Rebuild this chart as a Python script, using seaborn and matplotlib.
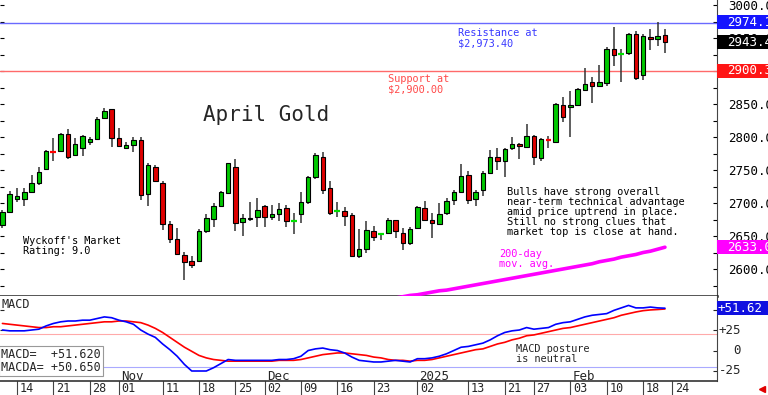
import matplotlib
matplotlib.use('Agg')
import matplotlib.pyplot as plt
import matplotlib.transforms as mtransforms
from matplotlib.patches import Rectangle
import seaborn as sns
import numpy as np
import pandas as pd

# trading calendar (COMEX), Oct 10 2024 onward
holidays = ['2024-11-28', '2024-12-25', '2025-01-01', '2025-01-20', '2025-02-17']
days = pd.bdate_range('2024-10-10', '2025-03-07', freq='C', holidays=holidays)

# April gold daily OHLC
opens = [2666, 2686, 2706, 2706, 2716, 2730, 2752, 2777.4, 2779, 2804,
         2773, 2784, 2792, 2797, 2829, 2842, 2799, 2783, 2788, 2796,
         2713, 2755, 2731, 2668, 2645, 2621, 2612, 2612, 2657, 2676,
         2696, 2715, 2754, 2671, 2676, 2679, 2696, 2679, 2683, 2692,
         2673, 2683, 2701, 2740, 2770, 2722, 2688, 2688, 2682, 2620,
         2630, 2658, 2652, 2655, 2674, 2655, 2640, 2662, 2692, 2674,
         2668, 2685, 2705, 2717, 2743, 2706, 2719, 2745, 2769, 2764,
         2783, 2790, 2785, 2802, 2768, 2796.4, 2793, 2849, 2845, 2849,
         2871, 2883, 2878, 2882, 2934, 2926, 2927, 2956, 2894, 2952,
         2948, 2955]
highs = [2689, 2718, 2723, 2723, 2742, 2754, 2780, 2798, 2806, 2812,
         2798, 2803, 2800, 2830, 2844, 2843, 2813, 2793, 2800, 2800,
         2760, 2758, 2733, 2673, 2662, 2626, 2620, 2660, 2684, 2700,
         2718, 2761, 2766, 2683, 2702, 2708, 2697, 2697, 2700, 2697,
         2685, 2717, 2741, 2776, 2778, 2734, 2702, 2694, 2685, 2660,
         2673, 2665, 2655, 2677, 2675, 2662, 2664, 2696, 2703, 2685,
         2700, 2707, 2720, 2759, 2748, 2720, 2749, 2780, 2783, 2783,
         2800, 2791, 2820, 2803, 2798, 2801, 2851, 2860, 2870, 2874,
         2904, 2891, 2909, 2937, 2967, 2933, 2958, 2961, 2956, 2963,
         2974, 2963]
lows = [2662, 2685, 2701, 2695, 2715, 2728, 2750, 2763, 2778, 2766,
        2771, 2771, 2788, 2796, 2827, 2785, 2785, 2782, 2778, 2705,
        2696, 2732, 2659, 2639, 2621, 2583, 2602, 2611, 2655, 2664,
        2694, 2714, 2658, 2650, 2672, 2663, 2663, 2675, 2673, 2663,
        2653, 2669, 2699, 2736, 2714, 2682, 2679, 2665, 2618, 2616,
        2624, 2643, 2644, 2654, 2647, 2629, 2637, 2660, 2673, 2647,
        2666, 2682, 2697, 2715, 2699, 2696, 2711, 2744, 2750, 2740,
        2781, 2766, 2784, 2758, 2763, 2783, 2792, 2823, 2800, 2847,
        2870, 2852, 2876, 2877, 2908, 2884, 2924, 2886, 2886, 2932,
        2938, 2928]
closes = [2687, 2713, 2711, 2717, 2730, 2747, 2779, 2777, 2804, 2769,
          2790, 2802, 2797, 2828, 2839, 2798, 2786, 2788, 2795, 2712,
          2758, 2733, 2668, 2645, 2622, 2611, 2606, 2658, 2678, 2696,
          2716, 2760, 2669, 2677, 2678, 2690, 2679, 2683, 2691, 2672,
          2673.4, 2701, 2740, 2772, 2720, 2685, 2688.4, 2681, 2619, 2630,
          2659, 2649, 2652.4, 2675, 2657, 2640, 2661, 2694, 2675, 2669,
          2684, 2703, 2716, 2741, 2705, 2716, 2746, 2769, 2764, 2782,
          2790, 2786, 2802, 2769, 2797, 2796, 2850, 2830, 2849, 2872,
          2881, 2878, 2884, 2934, 2924, 2926.4, 2956, 2890, 2953, 2948,
          2953, 2943.4]

ma200 = [np.nan] * 50 + [
    2551, 2552, 2553, 2555, 2556, 2558, 2560, 2561, 2563, 2565,
    2567, 2568, 2570, 2572, 2574, 2576, 2578, 2580, 2582, 2584,
    2586, 2588, 2590, 2592, 2594, 2596, 2598, 2600, 2602, 2604,
    2606, 2608, 2611, 2613, 2615, 2618, 2620, 2622, 2625, 2627,
    2630, 2633]

macd = [25, 24, 24, 24, 25, 26, 30, 33, 35, 36,
        36, 37, 37, 39, 41, 40, 37, 35, 32, 25,
        20, 16, 8, 1, -7, -17, -25, -25, -25, -21,
        -16, -11, -12, -12, -12, -12, -12, -12, -11, -11,
        -10, -7, 0, 2, 3, 1, 0, -3, -8, -12,
        -13, -14, -14, -13, -12, -13, -14, -10, -10, -9,
        -7, -4, 0, 4, 5, 7, 9, 13, 18, 22,
        24, 25, 28, 26, 27, 28, 32, 34, 35, 38,
        41, 43, 44, 45, 49, 52, 55, 52, 52, 53,
        52, 51.62]
macda = [33, 32, 31, 30, 29, 28, 28, 29, 29, 30,
         31, 32, 33, 34, 35, 35, 36, 36, 35, 34,
         31, 27, 22, 16, 10, 4, -1, -6, -9, -11,
         -12, -13, -13, -13, -13, -13, -13, -13, -12, -12,
         -12, -11, -9, -7, -5, -4, -3, -3, -4, -5,
         -6, -8, -9, -11, -12, -12, -13, -12, -12, -11,
         -9, -7, -5, -3, -1, 1, 2, 5, 8, 10,
         13, 15, 18, 19, 21, 23, 25, 27, 28, 30,
         32, 34, 36, 38, 40, 43, 45, 47, 48.6, 49.5,
         50, 50.65]

week_ticks = ['2024-10-14', '2024-10-21', '2024-10-28', '2024-11-01', '2024-11-11',
              '2024-11-18', '2024-11-25', '2024-12-02', '2024-12-09', '2024-12-16',
              '2024-12-23', '2025-01-02', '2025-01-13', '2025-01-21', '2025-01-27',
              '2025-02-03', '2025-02-10', '2025-02-18', '2025-02-24']
month_labels = ['Nov', 'Dec', '2025', 'Feb']
month_ticks = ['2024-11-01', '2024-12-02', '2025-01-02', '2025-02-03']

resistance = 2973.40
support = 2900.00
price_boxes = [(2974.1, '#1515ff'), (2943.4, 'black'), (2900.3, '#ff1515'), (2633.0, '#ff00ff')]

n = len(closes)
df = pd.DataFrame({'x': np.arange(n), 'open': opens, 'high': highs, 'low': lows,
                   'close': closes, 'ma200': ma200, 'macd': macd, 'macda': macda})

def pos(d):
    return days.get_loc(pd.Timestamp(d))

sns.set_style('white')
plt.rcParams['font.family'] = ['DejaVu Sans Mono', 'DejaVu Sans']
MONO = 'DejaVu Sans Mono'

fig = plt.figure(figsize=(7.68, 3.95), dpi=100)
W, H = 768, 395
ax1 = fig.add_axes([0, 1 - 296 / H, 717 / W, 296 / H])
ax2 = fig.add_axes([0, 1 - 381 / H, 717 / W, 85 / H])
xlim = (-0.335, 98.15)

# ---- price panel ----
ax1.axhline(resistance, color='#6a6aff', lw=1, zorder=1)
ax1.axhline(support, color='#ff6a6a', lw=1, zorder=1)

ax1.vlines(df['x'], df['low'], df['high'], color='#333333', lw=1.1, zorder=2)
body_lo = df[['open', 'close']].min(axis=1)
body_h = (df['close'] - df['open']).abs()
up = df['close'] >= df['open']
doji = body_h < 1
solid = ~doji
ax1.bar(df['x'][solid], body_h[solid], bottom=body_lo[solid], width=0.62,
        color=np.where(up[solid], '#00c800', '#e00000'), edgecolor='black', lw=0.8, zorder=3)
ax1.hlines(df['close'][doji], df['x'][doji] - 0.4, df['x'][doji] + 0.4,
           colors=np.where(up[doji], '#00e000', '#ff0000'), lw=1.6, zorder=4)

sns.lineplot(data=df, x='x', y='ma200', ax=ax1, color='#ff00ff', lw=2.6, zorder=3)

ax1.set_xlim(*xlim)
ax1.set_ylim(2559.1, 3007.6)
ax1.set_xlabel('')
ax1.set_ylabel('')
ax1.set_xticks([])
ax1.set_yticks(np.arange(2600, 3001, 50))
ax1.set_yticks(np.arange(2575, 3001, 25), minor=True)
ax1.yaxis.set_major_formatter(matplotlib.ticker.FormatStrFormatter('%.1f'))
ax1.tick_params(axis='y', which='both', left=True, right=True, labelleft=False, labelright=True,
                direction='in', length=3, width=0.8, pad=8, labelsize=9, colors='black')
for lbl in ax1.get_yticklabels():
    lbl.set_fontfamily(MONO)
for s in ['top', 'left']:
    ax1.spines[s].set_visible(False)
ax1.spines['bottom'].set_linewidth(1.8)
ax1.spines['bottom'].set_color('#222222')
ax1.spines['right'].set_linewidth(0.8)
ax1.spines['right'].set_color('#444444')

btrans = mtransforms.blended_transform_factory(ax1.transAxes, ax1.transData)
box_h = 14 / 0.66
for val, col in price_boxes:
    ax1.add_patch(Rectangle((1.0, val - box_h / 2), 51 / 717, box_h, transform=btrans,
                            facecolor=col, edgecolor='none', clip_on=False, zorder=10))
    ax1.text(1 + 10 / 717, val, f'{val:.1f}', transform=btrans, color='white', fontsize=9,
             family=MONO, va='center', ha='left', zorder=11, clip_on=False)

ax1.text(203 / 717, 1 - 115 / 296, 'April Gold', transform=ax1.transAxes, fontsize=15,
         family=MONO, va='center', ha='left')
ax1.text(458 / 717, 1 - 28 / 296, 'Resistance at\n$2,973.40', transform=ax1.transAxes,
         fontsize=7.4, family=MONO, color='#3a3aff', va='top', ha='left', linespacing=1.0)
ax1.text(388 / 717, 1 - 74 / 296, 'Support at\n$2,900.00', transform=ax1.transAxes,
         fontsize=7.4, family=MONO, color='#ff4a4a', va='top', ha='left', linespacing=1.0)
ax1.text(507 / 717, 1 - 187 / 296,
         'Bulls have strong overall\nnear-term technical advantage\namid price uptrend in place.\n'
         'Still no strong clues that\nmarket top is close at hand.',
         transform=ax1.transAxes, fontsize=7.4, family=MONO, color='black', va='top',
         ha='left', linespacing=1.0)
ax1.text(23 / 717, 1 - 236 / 296, "Wyckoff's Market\nRating: 9.0", transform=ax1.transAxes,
         fontsize=7.4, family=MONO, color='black', va='top', ha='left', linespacing=1.0)
ax1.text(499 / 717, 1 - 249 / 296, '200-day\nmov. avg.', transform=ax1.transAxes,
         fontsize=7.4, family=MONO, color='#ff00ff', va='top', ha='left', linespacing=1.0)

# ---- MACD panel ----
ax2.axhline(20, color='#ffaaaa', lw=0.8, zorder=1)
ax2.axhline(-20, color='#aaaaff', lw=0.8, zorder=1)
sns.lineplot(data=df, x='x', y='macda', ax=ax2, color='#ff0000', lw=1.2, zorder=3)
sns.lineplot(data=df, x='x', y='macd', ax=ax2, color='#0000ff', lw=1.2, zorder=4)
ax2.set_xlim(*xlim)
ax2.set_ylim(-37.2, 66.5)
ax2.set_xlabel('')
ax2.set_ylabel('')
ax2.set_xticks([])
ax2.set_yticks([-25, 0, 25, 50])
ax2.tick_params(axis='y', which='both', left=True, right=True, labelleft=False, labelright=False,
                direction='in', length=3, width=0.8)
ax2.spines['top'].set_visible(False)
ax2.spines['left'].set_visible(False)
ax2.spines['bottom'].set_linewidth(1.2)
ax2.spines['bottom'].set_color('#333333')
ax2.spines['right'].set_linewidth(0.8)
ax2.spines['right'].set_color('#444444')

mtrans = mtransforms.blended_transform_factory(ax2.transAxes, ax2.transData)
for v, s in [(25, '+25'), (0, '0'), (-25, '-25')]:
    ax2.text(741 / 717, v, s, transform=mtrans, fontsize=9, family=MONO, ha='right',
             va='center', clip_on=False)
mbox_h = 14 / 0.82
ax2.add_patch(Rectangle((1.0, macd[-1] - mbox_h / 2), 51 / 717, mbox_h, transform=mtrans,
                        facecolor='#1010e0', edgecolor='none', clip_on=False, zorder=10))
ax2.text(1 + 1 / 717, macd[-1], f'{macd[-1]:+.2f}', transform=mtrans, color='white', fontsize=9,
         family=MONO, va='center', ha='left', zorder=11, clip_on=False)

ax2.text(2 / 717, 1 - 8 / 85, 'MACD', transform=ax2.transAxes, fontsize=8.5, family=MONO,
         va='center', ha='left')
ax2.text(1 / 717, 1 - 52 / 85, 'MACD=  %+.3f\nMACDA= %+.3f' % (macd[-1], macda[-1]),
         transform=ax2.transAxes, fontsize=8.5, family=MONO, va='top', ha='left',
         linespacing=1.0, zorder=10,
         bbox=dict(boxstyle='square,pad=0.15', facecolor='white', edgecolor='#999999', lw=0.8))
ax2.text(516 / 717, 1 - 48 / 85, 'MACD posture\nis neutral', transform=ax2.transAxes,
         fontsize=7.4, family=MONO, va='top', ha='left', linespacing=1.0)

xtrans = mtransforms.blended_transform_factory(ax2.transData, ax2.transAxes)
for lab, d in zip(month_labels, month_ticks):
    ax2.text(pos(d) + 0.3, 5 / 85, lab, transform=xtrans, fontsize=9, family=MONO,
             va='center', ha='left')
for d in week_ticks:
    p = pos(d)
    ax2.plot([p, p], [0, -14 / 85], transform=xtrans, color='#444444', lw=0.8, clip_on=False)
    ax2.text(p + 0.35, -8 / 85, pd.Timestamp(d).strftime('%d'), transform=xtrans, fontsize=8.5,
             family=MONO, va='center', ha='left', clip_on=False)

fig.lines.append(plt.Line2D([762 / W], [1 - 389 / H], marker='<', color='#e00000',
                            markersize=5, transform=fig.transFigure, lw=0))

fig.savefig('out.png', dpi=100)
